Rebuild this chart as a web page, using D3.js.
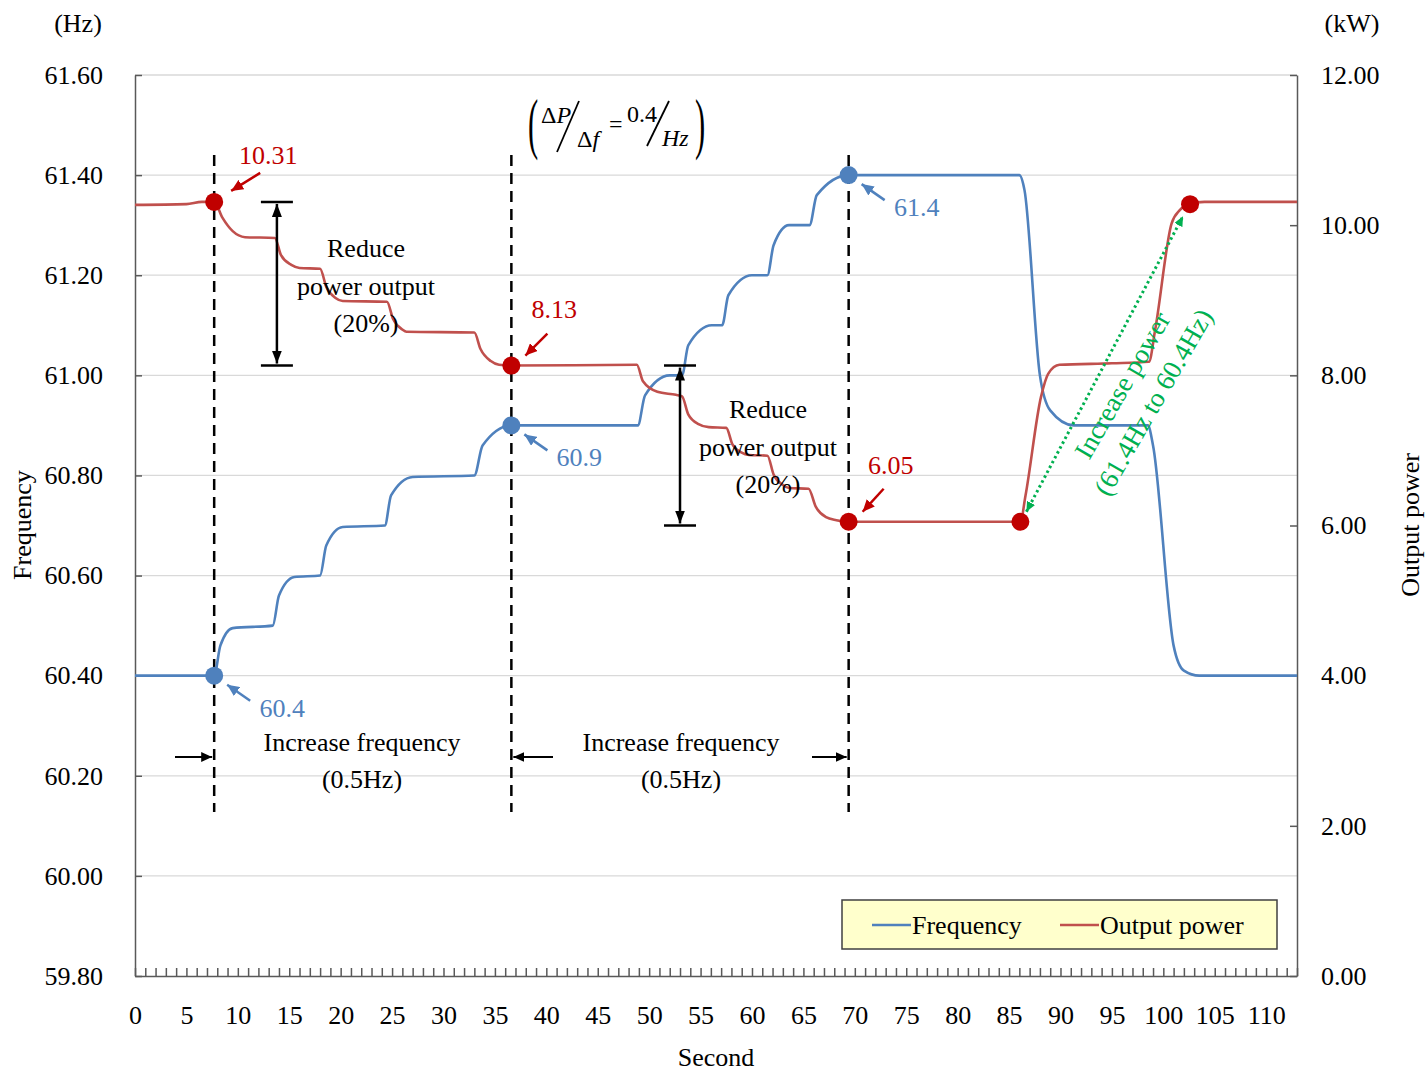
<!DOCTYPE html>
<html>
<head>
<meta charset="utf-8">
<script src="https://cdn.jsdelivr.net/npm/d3@7"></script>
<style>
  body { margin: 0; background: #fff; }
  text { font-family: "Liberation Serif", "Times New Roman", serif; fill: #000; }
</style>
</head>
<body>
<div id="canvas"></div>
<script>
// frequency trace (Hz)
const freqTime = [0, 7.7, 8.3, 9.5, 13.4, 14.0, 15.5, 18.0, 18.6, 20.2, 24.3, 24.9, 27.0, 33.0, 33.8, 36.6,
  48.9, 49.6, 52.0, 53.2, 53.8, 56.1, 57.1, 57.7, 60.0, 61.5, 62.1, 63.6, 65.6, 66.3, 69.4,
  86.0, 86.5, 88.0, 89.0, 91.3, 98.5, 99.0, 101.0, 102.0, 103.5, 113];
const freqValue = [60.40, 60.40, 60.46, 60.495, 60.50, 60.56, 60.597, 60.60, 60.66, 60.697, 60.70, 60.76, 60.797, 60.80, 60.86, 60.90,
  60.90, 60.96, 61.00, 61.00, 61.06, 61.10, 61.10, 61.16, 61.20, 61.20, 61.26, 61.30, 61.30, 61.36, 61.40,
  61.40, 61.37, 61.00, 60.93, 60.90, 60.90, 60.86, 60.46, 60.41, 60.40, 60.40];

// output power trace (kW)
const powerTime = [0, 5, 6.5, 7.7, 8.5, 9.5, 10.7, 13.6, 14.2, 15.2, 16.0, 18.0, 18.6, 19.5, 20.2, 24.5, 25.1, 26.0, 26.4,
  33.0, 33.6, 34.6, 35.4, 36.6, 48.8, 49.4, 50.8, 52.6, 53.2, 53.8, 54.8, 55.8, 57.5, 58.1, 59.0, 59.7,
  61.5, 62.1, 63.0, 63.6, 65.5, 66.2, 67.2, 68.2, 69.4, 86.1, 86.6, 88.1, 88.8, 89.9, 95.0, 98.6, 99.2,
  100.8, 101.6, 102.6, 104, 113];
const powerValue = [10.27, 10.28, 10.31, 10.31, 10.10, 9.92, 9.84, 9.83, 9.60, 9.47, 9.43, 9.42, 9.18, 9.03, 8.99, 8.98, 8.75, 8.61, 8.58,
  8.57, 8.35, 8.19, 8.14, 8.13, 8.14, 7.92, 7.78, 7.74, 7.72, 7.48, 7.35, 7.31, 7.30, 7.08, 6.97, 6.94,
  6.93, 6.68, 6.54, 6.50, 6.49, 6.25, 6.11, 6.07, 6.05, 6.05, 6.40, 7.71, 8.02, 8.14, 8.16, 8.18, 8.60,
  10.02, 10.20, 10.28, 10.31, 10.31];

// step events
const eventTimes = [7.7, 36.6, 69.4];
const freqAtEvent = [60.4, 60.9, 61.4];
const powerAtEvent = [10.31, 8.13, 6.05];
const recoverTimes = [86.1, 102.6];
const recoverPower = [6.05, 10.28];

const freqTicks = [59.8, 60.0, 60.2, 60.4, 60.6, 60.8, 61.0, 61.2, 61.4, 61.6];
const powerTicks = [0, 2, 4, 6, 8, 10, 12];
const secondLabels = [0, 5, 10, 15, 20, 25, 30, 35, 40, 45, 50, 55, 60, 65, 70, 75, 80, 85, 90, 95, 100, 105, 110];

const blue = "#4F81BD", red = "#C0504D", darkRed = "#C00000", green = "#00B050";
const width = 1428, height = 1071;
const margin = { top: 75, left: 135, bottom: 95, right: 131 };

const svg = d3.select("#canvas").append("svg")
  .attr("width", width).attr("height", height)
  .style("display", "block");

const x = d3.scaleLinear().domain([0, 113]).range([margin.left, width - margin.right]);
const yF = d3.scaleLinear().domain([59.8, 61.6]).range([height - margin.bottom, margin.top]);
const yP = d3.scaleLinear().domain([0, 12]).range([height - margin.bottom, margin.top]);

const defs = svg.append("defs");
function arrowMarker(id, color, len, wid) {
  defs.append("marker").attr("id", id)
    .attr("viewBox", "0 0 10 10").attr("refX", 10).attr("refY", 5)
    .attr("markerWidth", len).attr("markerHeight", wid)
    .attr("markerUnits", "userSpaceOnUse").attr("orient", "auto-start-reverse")
    .attr("preserveAspectRatio", "none")
    .append("path").attr("d", "M0,0L10,5L0,10Z").attr("fill", color);
}
arrowMarker("arRed", darkRed, 12, 11);
arrowMarker("arBlue", blue, 12, 11);
arrowMarker("arBlack", "#000", 13, 10);
arrowMarker("arSmall", "#000", 11, 10);
arrowMarker("arGreen", green, 10, 9);

// gridlines
svg.append("g").selectAll("line").data(freqTicks.slice(1)).join("line")
  .attr("x1", x(0)).attr("x2", x(113))
  .attr("y1", d => yF(d)).attr("y2", d => yF(d))
  .attr("stroke", "#d9d9d9").attr("stroke-width", 1.3);

// axes
const fmt = d3.format(".2f");
const axisColor = "#595959";
function styleAxis(g) {
  g.selectAll("path, line").attr("stroke", axisColor).attr("stroke-width", 1.5);
  g.selectAll("text").attr("font-size", 26).attr("font-family", "Liberation Serif").attr("fill", "#000");
}
svg.append("g").attr("transform", `translate(${x(0)},0)`)
  .call(d3.axisLeft(yF).tickValues(freqTicks).tickFormat(fmt).tickSize(-7).tickSizeOuter(0).tickPadding(32))
  .call(styleAxis);
svg.append("g").attr("transform", `translate(${x(113)},0)`)
  .call(d3.axisRight(yP).tickValues(powerTicks).tickFormat(fmt).tickSize(-7).tickSizeOuter(0).tickPadding(24))
  .call(styleAxis);
svg.append("g").attr("transform", `translate(0,${yF(59.8)})`)
  .call(d3.axisBottom(x).tickValues(d3.range(0, 114)).tickSize(-8).tickSizeOuter(0).tickPadding(30)
    .tickFormat(d => secondLabels.includes(d) ? d : ""))
  .call(styleAxis);

// axis titles
svg.append("text").attr("x", 78).attr("y", 32).attr("text-anchor", "middle").attr("font-size", 26).text("(Hz)");
svg.append("text").attr("x", 1352).attr("y", 32).attr("text-anchor", "middle").attr("font-size", 26).text("(kW)");
svg.append("text").attr("x", 716).attr("y", 1066).attr("text-anchor", "middle").attr("font-size", 26).text("Second");
svg.append("text").attr("transform", "translate(31,525) rotate(-90)").attr("text-anchor", "middle").attr("font-size", 26).text("Frequency");
svg.append("text").attr("transform", "translate(1419,525) rotate(-90)").attr("text-anchor", "middle").attr("font-size", 26).text("Output  power");

// dashed event lines
svg.append("g").selectAll("line").data(eventTimes).join("line")
  .attr("x1", d => x(d)).attr("x2", d => x(d)).attr("y1", 155).attr("y2", 812)
  .attr("stroke", "#000").attr("stroke-width", 2.5).attr("stroke-dasharray", "11,7");

// traces
const freqData = freqTime.map((t, i) => ({ t, v: freqValue[i] }));
const powerData = powerTime.map((t, i) => ({ t, v: powerValue[i] }));
svg.append("path").datum(freqData)
  .attr("d", d3.line().x(d => x(d.t)).y(d => yF(d.v)).curve(d3.curveMonotoneX))
  .attr("fill", "none").attr("stroke", blue).attr("stroke-width", 2.6);
svg.append("path").datum(powerData)
  .attr("d", d3.line().x(d => x(d.t)).y(d => yP(d.v)).curve(d3.curveMonotoneX))
  .attr("fill", "none").attr("stroke", red).attr("stroke-width", 2.6);

// event markers
svg.append("g").selectAll("circle").data(eventTimes).join("circle")
  .attr("cx", d => x(d)).attr("cy", (d, i) => yF(freqAtEvent[i])).attr("r", 9).attr("fill", blue);
svg.append("g").selectAll("circle").data(eventTimes.concat(recoverTimes)).join("circle")
  .attr("cx", d => x(d)).attr("cy", (d, i) => yP(powerAtEvent.concat(recoverPower)[i]))
  .attr("r", 9).attr("fill", darkRed);

// callouts
function callout(px, py, tx, ty, hx, hy, lx, ly, label, color, marker) {
  svg.append("line").attr("x1", px + tx).attr("y1", py + ty).attr("x2", px + hx).attr("y2", py + hy)
    .attr("stroke", color).attr("stroke-width", 2.5).attr("marker-end", `url(#${marker})`);
  svg.append("text").attr("x", px + lx).attr("y", py + ly).attr("text-anchor", "middle")
    .attr("font-size", 26).style("fill", color).text(label);
}
callout(x(eventTimes[0]), yP(powerAtEvent[0]), 46, -29, 17, -11, 54, -38, "10.31", darkRed, "arRed");
callout(x(eventTimes[1]), yP(powerAtEvent[1]), 36, -32, 14, -10, 43, -48, "8.13", darkRed, "arRed");
callout(x(eventTimes[2]), yP(powerAtEvent[2]), 35, -33, 14, -10, 42, -48, "6.05", darkRed, "arRed");
freqAtEvent.forEach((f, i) => {
  callout(x(eventTimes[i]), yF(f), 36, 25, 13, 9, 68, 41, String(f), blue, "arBlue");
});

// reduce power output bars
function rangeArrow(t, p0, p1, cx, baseY) {
  const px = x(t);
  svg.append("line").attr("x1", px).attr("x2", px).attr("y1", yP(p0) + 2).attr("y2", yP(p1) - 2)
    .attr("stroke", "#000").attr("stroke-width", 2.5)
    .attr("marker-start", "url(#arBlack)").attr("marker-end", "url(#arBlack)");
  [p0, p1].forEach(p => svg.append("line").attr("x1", px - 16).attr("x2", px + 16)
    .attr("y1", yP(p)).attr("y2", yP(p)).attr("stroke", "#000").attr("stroke-width", 2.5));
  ["Reduce", "power output", "(20%)"].forEach((s, i) =>
    svg.append("text").attr("x", cx).attr("y", baseY + i * 37.5).attr("text-anchor", "middle")
      .attr("font-size", 26).text(s));
}
rangeArrow(13.8, powerAtEvent[0], powerAtEvent[1], 366, 257);
rangeArrow(53.0, powerAtEvent[1], 6.0, 768, 418);

// increase frequency notes
function smallArrow(x1, x2) {
  svg.append("line").attr("x1", x1).attr("x2", x2).attr("y1", 757).attr("y2", 757)
    .attr("stroke", "#000").attr("stroke-width", 2.2).attr("marker-end", "url(#arSmall)");
}
smallArrow(175, x(eventTimes[0]) - 2);
smallArrow(553, x(eventTimes[1]) + 2);
smallArrow(812, x(eventTimes[2]) - 2);
[[362], [681]].forEach(([cx]) => {
  svg.append("text").attr("x", cx).attr("y", 751).attr("text-anchor", "middle").attr("font-size", 26).text("Increase frequency");
  svg.append("text").attr("x", cx).attr("y", 788).attr("text-anchor", "middle").attr("font-size", 26).text("(0.5Hz)");
});

// droop formula
const fg = svg.append("g").attr("font-size", 24);
fg.append("text").attr("transform", "translate(528,146) scale(0.45,1)").attr("font-size", 68).text("(");
fg.append("text").attr("x", 541).attr("y", 123).html('Δ<tspan font-style="italic">P</tspan>');
fg.append("line").attr("x1", 557).attr("y1", 152).attr("x2", 579).attr("y2", 101).attr("stroke", "#000").attr("stroke-width", 1.8);
fg.append("text").attr("x", 577).attr("y", 147).html('Δ<tspan font-style="italic">f</tspan>');
fg.append("text").attr("x", 609).attr("y", 132).attr("font-size", 24).text("=");
fg.append("text").attr("x", 627).attr("y", 122).text("0.4");
fg.append("line").attr("x1", 647).attr("y1", 146).attr("x2", 669).attr("y2", 101).attr("stroke", "#000").attr("stroke-width", 1.8);
fg.append("text").attr("x", 662).attr("y", 146).attr("font-style", "italic").text("Hz");
fg.append("text").attr("transform", "translate(695,146) scale(0.45,1)").attr("font-size", 68).text(")");

// increase power arrow
svg.append("line")
  .attr("x1", x(recoverTimes[0]) + 6).attr("y1", yP(recoverPower[0]) - 10)
  .attr("x2", x(recoverTimes[1]) - 7).attr("y2", yP(recoverPower[1]) + 12)
  .attr("stroke", green).attr("stroke-width", 3).attr("stroke-dasharray", "2.5,3")
  .attr("marker-start", "url(#arGreen)").attr("marker-end", "url(#arGreen)");
svg.append("text").attr("transform", "translate(1122,385) rotate(-60)").attr("text-anchor", "middle")
  .attr("dy", "0.35em").attr("font-size", 27).style("fill", green).text("Increase  power");
svg.append("text").attr("transform", "translate(1153,402) rotate(-60)").attr("text-anchor", "middle")
  .attr("dy", "0.35em").attr("font-size", 27).style("fill", green).text("(61.4Hz to 60.4Hz)");

// legend
const lg = svg.append("g");
lg.append("rect").attr("x", 842).attr("y", 900).attr("width", 435).attr("height", 49)
  .attr("fill", "#FFFFCC").attr("stroke", "#404040").attr("stroke-width", 1.5);
[["Frequency", blue, 872], ["Output power", red, 1060]].forEach(([name, c, lx]) => {
  lg.append("line").attr("x1", lx).attr("x2", lx + 39).attr("y1", 925).attr("y2", 925)
    .attr("stroke", c).attr("stroke-width", 2.6);
  lg.append("text").attr("x", lx + 40).attr("y", 934).attr("font-size", 26).text(name);
});
</script>
</body>
</html>
